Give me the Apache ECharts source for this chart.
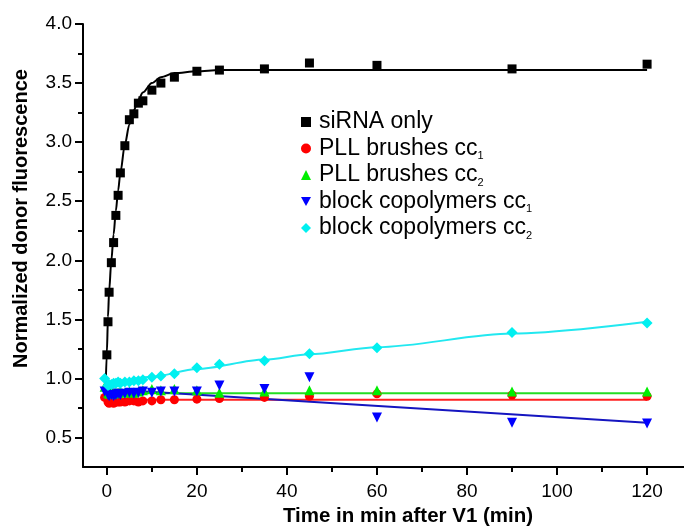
<!DOCTYPE html>
<html>
<head>
<meta charset="utf-8">
<script src="https://cdn.jsdelivr.net/npm/echarts@6/dist/echarts.min.js"></script>
<style>html,body{margin:0;padding:0;background:#fff}#c{width:684px;height:532px}</style>
</head>
<body>
<div id="c"></div>
<script>
// ---- data ----
const seriesNames = ['siRNA only', 'PLL brushes cc1', 'PLL brushes cc2', 'block copolymers cc1', 'block copolymers cc2'];
const sirnaTime = [0, 0.25, 0.5, 1, 1.5, 2, 2.5, 3, 4, 5, 6, 7, 8, 10, 12, 15, 20, 25, 35, 45, 60, 90, 120];
const sirnaVal  = [1.20, 1.48, 1.73, 1.98, 2.15, 2.38, 2.55, 2.74, 2.97, 3.19, 3.24, 3.33, 3.35, 3.44, 3.50, 3.55, 3.60, 3.61, 3.62, 3.67, 3.65, 3.62, 3.66];
const ctrlTime  = [-0.5, 0.25, 0.5, 1, 1.5, 2, 2.5, 3, 4, 5, 6, 7, 8, 10, 12, 15, 20, 25, 35, 45, 60, 90, 120];
const pllCc1    = [0.84, 0.80, 0.79, 0.80, 0.79, 0.80, 0.80, 0.80, 0.80, 0.81, 0.81, 0.80, 0.81, 0.81, 0.82, 0.82, 0.825, 0.83, 0.84, 0.85, 0.87, 0.86, 0.85];
const pllCc2    = [0.93, 0.88, 0.87, 0.88, 0.87, 0.88, 0.88, 0.89, 0.88, 0.89, 0.88, 0.89, 0.90, 0.91, 0.90, 0.91, 0.90, 0.88, 0.89, 0.90, 0.90, 0.89, 0.89];
const blockCc1  = [0.89, 0.86, 0.85, 0.86, 0.85, 0.86, 0.87, 0.86, 0.87, 0.88, 0.87, 0.88, 0.89, 0.88, 0.89, 0.89, 0.89, 0.94, 0.91, 1.01, 0.67, 0.625, 0.62];
const blockCc2  = [1.00, 0.94, 0.95, 0.95, 0.96, 0.96, 0.97, 0.96, 0.97, 0.97, 0.98, 0.98, 0.99, 1.01, 1.02, 1.04, 1.09, 1.12, 1.15, 1.21, 1.26, 1.39, 1.47];
// fitted curves as drawn in the reference
const sirnaFitT = [-0.3, 0, 0.25, 0.5, 1, 1.5, 2, 2.5, 3, 4, 5, 6, 7, 8, 10, 12, 15, 20, 25, 35, 120];
const sirnaFitY = [0.88, 1.22, 1.52, 1.74, 2.00, 2.22, 2.42, 2.59, 2.74, 2.98, 3.15, 3.27, 3.36, 3.42, 3.50, 3.55, 3.585, 3.60, 3.61, 3.61, 3.61];
const pllCc1FitT = [-0.3, 120];
const pllCc1FitY = [0.82, 0.82];
const pllCc2FitT = [-0.3, 120];
const pllCc2FitY = [0.875, 0.875];
const blockCc1FitT = [-0.3, 120];
const blockCc1FitY = [0.91, 0.625];
const blockCc2FitT = [-0.5, 10, 20, 35, 45, 60, 90, 120];
const blockCc2FitY = [0.94, 1.015, 1.08, 1.16, 1.205, 1.265, 1.38, 1.48];
const xTicks = [0, 20, 40, 60, 80, 100, 120];
const xMinorTicks = [10, 30, 50, 70, 90, 110];
const yTicks = [0.5, 1.0, 1.5, 2.0, 2.5, 3.0, 3.5, 4.0];
const yMinorTicks = [0.75, 1.25, 1.75, 2.25, 2.75, 3.25, 3.75];

const colors = ['#000000', '#ff0000', '#00ee00', '#0000ff', '#00f0f0'];
const lineColors = ['#000000', '#ff2020', '#22dd22', '#1515c0', '#22e8f0'];
const FONT = '"Liberation Sans", Arial, sans-serif';

const pair = (xs, ys) => xs.map((x, i) => [x, ys[i]]);
const triDown = 'path://M0,0L10,0L5,9Z';

const pts = [
  {v: sirnaVal, t: sirnaTime, sym: 'rect', size: 9},
  {v: pllCc1, t: ctrlTime, sym: 'circle', size: 9},
  {v: pllCc2, t: ctrlTime, sym: 'triangle', size: 10},
  {v: blockCc1, t: ctrlTime, sym: triDown, size: 10},
  {v: blockCc2, t: ctrlTime, sym: 'diamond', size: 11}
];
const fits = [
  [sirnaFitT, sirnaFitY, true], [pllCc1FitT, pllCc1FitY, false], [pllCc2FitT, pllCc2FitY, false],
  [blockCc1FitT, blockCc1FitY, false], [blockCc2FitT, blockCc2FitY, true]
];

const series = [];
fits.forEach((f, i) => {
  series.push({
    type: 'line', name: 'fit' + i, data: pair(f[0], f[1]), showSymbol: false, symbol: 'none',
    smooth: f[2] ? 0.3 : false, smoothMonotone: 'x', silent: true, z: 2,
    lineStyle: {color: lineColors[i], width: 2}, xAxisIndex: 0, yAxisIndex: 0
  });
});
pts.forEach((p, i) => {
  series.push({
    type: 'scatter', name: seriesNames[i], data: pair(p.t, p.v), symbol: p.sym, symbolSize: p.size,
    itemStyle: {color: colors[i], opacity: 1}, z: 3 + i, xAxisIndex: 0, yAxisIndex: 0
  });
});

const legendIcons = ['rect', 'circle', 'triangle', triDown, 'diamond'];

const option = {
  animation: false,
  backgroundColor: '#fff',
  grid: {left: 83, top: 24, right: 0, bottom: 59, containLabel: false},
  legend: {
    orient: 'vertical', left: 296, top: 104, itemWidth: 10, itemHeight: 10, itemGap: 0.5,
    data: seriesNames.map((n, i) => ({name: n, icon: legendIcons[i], itemStyle: {color: colors[i]}})),
    textStyle: {
      fontFamily: FONT, fontSize: 23, color: '#000', lineHeight: 26, padding: [0, 0, 0, 3],
      rich: {s: {fontFamily: FONT, fontSize: 11, color: '#000', verticalAlign: 'bottom', lineHeight: 13}}
    },
    formatter: n => n.replace(/cc(\d)$/, 'cc{s|$1}'),
    selectedMode: false
  },
  xAxis: [{
    type: 'value', min: -5.3, max: 128.2, position: 'bottom',
    name: 'Time in min after V1 (min)', nameLocation: 'middle', nameGap: 34,
    nameTextStyle: {fontFamily: FONT, fontSize: 20.5, fontWeight: 'bold', color: '#000', padding: [0, 0, 0, 49]},
    axisLine: {show: true, onZero: false, lineStyle: {color: '#000', width: 2}},
    axisTick: {show: true, inside: false, length: 8, lineStyle: {color: '#000', width: 2}, customValues: xTicks},
    axisLabel: {show: true, margin: 15, fontFamily: FONT, fontSize: 19, color: '#000', customValues: xTicks},
    splitLine: {show: false}
  }, {
    type: 'value', min: -5.3, max: 128.2, position: 'bottom', gridIndex: 0,
    axisLine: {show: false, onZero: false},
    axisTick: {show: true, inside: false, length: 5, lineStyle: {color: '#000', width: 2}, customValues: xMinorTicks},
    axisLabel: {show: false},
    splitLine: {show: false}
  }],
  yAxis: [{
    type: 'value', min: 0.25, max: 4.0, position: 'left',
    name: 'Normalized donor fluorescence', nameLocation: 'middle', nameGap: 52,
    nameTextStyle: {fontFamily: FONT, fontSize: 20, fontWeight: 'bold', color: '#000', padding: [0, 0, 0, 54]},
    axisLine: {show: true, onZero: false, lineStyle: {color: '#000', width: 2}},
    axisTick: {show: true, inside: false, length: 8, lineStyle: {color: '#000', width: 2}, customValues: yTicks},
    axisLabel: {show: true, margin: 11, fontFamily: FONT, fontSize: 19, color: '#000', customValues: yTicks,
      formatter: v => v.toFixed(1)},
    splitLine: {show: false}
  }, {
    type: 'value', min: 0.25, max: 4.0, position: 'left', gridIndex: 0, offset: 0,
    axisLine: {show: false, onZero: false},
    axisTick: {show: true, inside: false, length: 5, lineStyle: {color: '#000', width: 2}, customValues: yMinorTicks},
    axisLabel: {show: false},
    splitLine: {show: false}
  }],
  series: series
};
const chart = echarts.init(document.getElementById('c'), null, {renderer: 'canvas'});
chart.setOption(option);
</script>
</body>
</html>
